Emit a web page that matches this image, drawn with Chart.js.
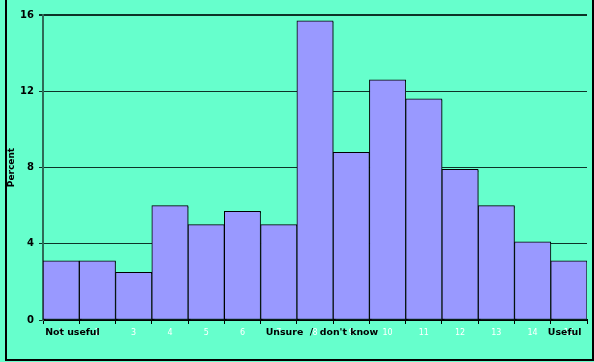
<!DOCTYPE html>
<html>
<head>
<meta charset="utf-8">
<script src="https://cdn.jsdelivr.net/npm/chart.js@4/dist/chart.umd.min.js"></script>
<style>
  html, body { margin: 0; padding: 0; background: #66FFCC; }
  #wrap { width: 594px; height: 362px; position: relative; }
  canvas { display: block; }
</style>
</head>
<body>
<div id="wrap"><canvas id="chart" width="594" height="362"></canvas></div>
<script>
// Rating scale from 1 (not useful) to 15 (useful)
const categories = ['1', '2', '3', '4', '5', '6', '7', '8', '9', '10', '11', '12', '13', '14', '15'];
// Share of respondents per rating, in percent
const percentValues = [3.1, 3.1, 2.5, 6.0, 5.0, 5.7, 5.0, 15.7, 8.8, 12.6, 11.6, 7.9, 6.0, 4.1, 3.1];
// Value axis ticks
const yTicks = [0, 4, 8, 12, 16];
// Verbal anchors of the scale and the rating each one starts at
const anchorTexts = ['Not useful', "Unsure  /  don't know", 'Useful'];
const anchorRatings = ['1', '7', '15'];

const BAR = '#9999FF';
const GRID = '#0d3328';
const AXIS = '#2f6b58';

// Soft drop shadow under the bars
const barShadow = {
  id: 'barShadow',
  beforeDatasetsDraw(chart) {
    const ctx = chart.ctx;
    ctx.save();
    ctx.shadowColor = 'rgba(20, 60, 50, 0.75)';
    ctx.shadowOffsetX = 2;
    ctx.shadowOffsetY = 1;
    ctx.shadowBlur = 0;
  },
  afterDatasetsDraw(chart) {
    chart.ctx.restore();
  }
};

// Bold verbal anchors below the axis and the frame round the figure
const anchorsAndFrame = {
  id: 'anchorsAndFrame',
  afterDraw(chart) {
    const ctx = chart.ctx;
    const x = chart.scales.x;
    const offsets = [-16, -13, -21];
    ctx.save();
    ctx.fillStyle = '#000';
    ctx.font = 'bold 9.4px "DejaVu Sans"';
    ctx.textAlign = 'left';
    ctx.textBaseline = 'alphabetic';
    anchorTexts.forEach((t, i) => {
      const px = x.getPixelForValue(categories.indexOf(anchorRatings[i]));
      ctx.fillText(t, px + offsets[i], 335);
    });
    // frame
    ctx.fillRect(5, 0, 2, 361);
    ctx.fillRect(5, 359, 589, 2);
    ctx.fillRect(592, 0, 2, 361);
    ctx.restore();
  }
};

new Chart(document.getElementById('chart'), {
  type: 'bar',
  data: {
    labels: categories,
    datasets: [{
      data: percentValues,
      backgroundColor: BAR,
      borderColor: '#000',
      borderWidth: 1,
      borderSkipped: false,
      barPercentage: 1,
      categoryPercentage: 1
    }]
  },
  options: {
    responsive: false,
    animation: false,
    devicePixelRatio: 1,
    layout: { padding: { top: 15, right: 7, bottom: 0, left: 0 } },
    plugins: {
      legend: { display: false },
      tooltip: { enabled: false }
    },
    scales: {
      x: {
        grid: {
          display: true,
          drawOnChartArea: false,
          drawTicks: true,
          tickLength: 4,
          color: '#000',
          offset: true
        },
        border: { display: true, color: '#000', width: 2 },
        ticks: {
          color: '#ffffff',
          font: { family: '"DejaVu Sans"', size: 8 },
          autoSkip: false,
          maxRotation: 0,
          padding: 4
        },
        afterFit(scale) { scale.height = 42; }
      },
      y: {
        min: 0,
        max: 16,
        afterBuildTicks(scale) { scale.ticks = yTicks.map(v => ({ value: v })); },
        grid: {
          color: GRID,
          lineWidth: (c) => (c.tick && c.tick.value === 16 ? 2 : 1),
          tickLength: 4,
          tickColor: GRID
        },
        border: { display: true, color: AXIS, width: 2 },
        ticks: {
          color: '#000',
          font: { family: '"DejaVu Sans"', size: 10, weight: 'bold' },
          padding: 5
        },
        title: {
          display: true,
          text: 'Percent',
          color: '#000',
          font: { family: '"DejaVu Sans"', size: 9, weight: 'bold' },
          padding: { top: 6, bottom: 0 }
        },
        afterFit(scale) { scale.width = 43; }
      }
    }
  },
  plugins: [barShadow, anchorsAndFrame]
});
</script>
</body>
</html>
